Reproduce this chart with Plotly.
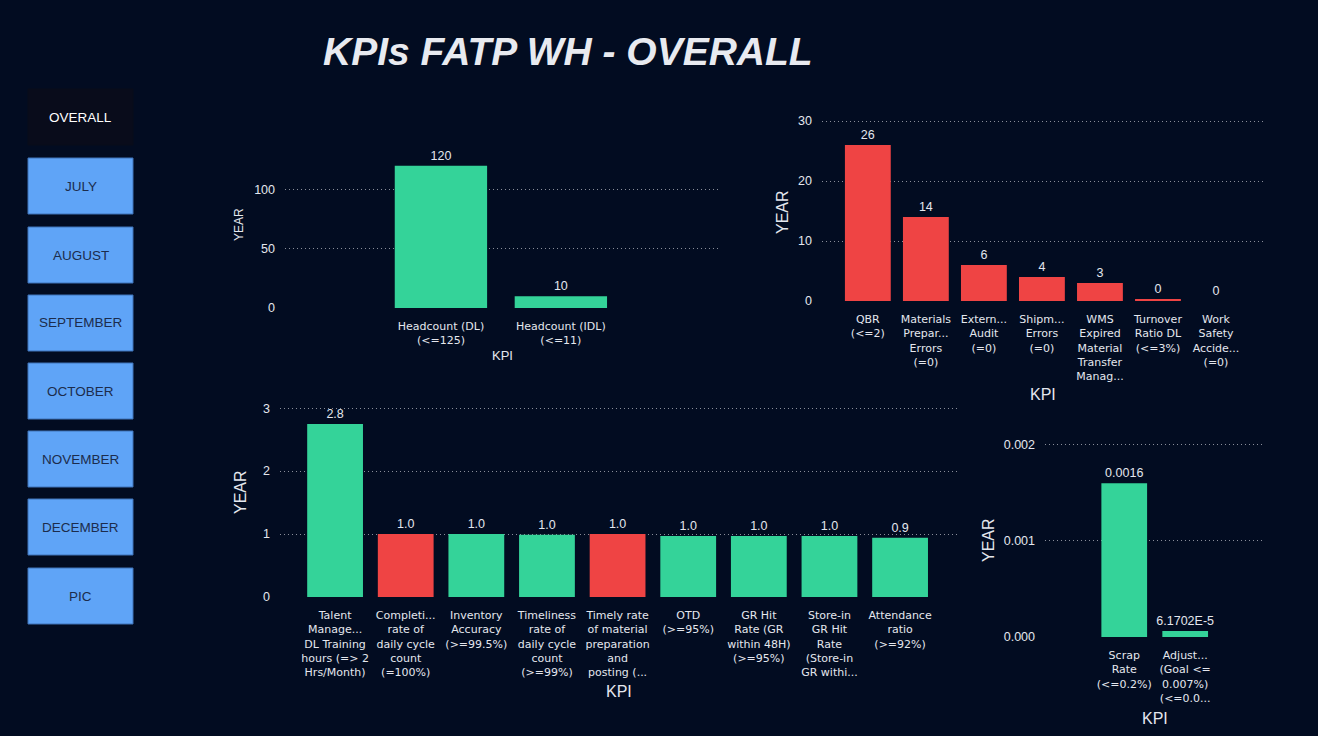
"""KPI dashboard: FATP warehouse, overall view."""
import plotly.graph_objects as go

W, H = 1318, 736

BG = "#020c21"
GREEN = "#34d399"
RED = "#ef4444"
STATUS_COLORS = {"met": GREEN, "miss": RED}
TXT = "#e4e7ee"

# --- data -------------------------------------------------------------
headcount_kpi = ["Headcount (DL)<br>(<=125)", "Headcount (IDL)<br>(<=11)"]
headcount_val = [120, 10]
headcount_status = ["met", "met"]

error_kpi = [
    "QBR<br>(<=2)",
    "Materials<br>Prepar...<br>Errors<br>(=0)",
    "Extern...<br>Audit<br>(=0)",
    "Shipm...<br>Errors<br>(=0)",
    "WMS<br>Expired<br>Material<br>Transfer<br>Manag...",
    "Turnover<br>Ratio DL<br>(<=3%)",
    "Work<br>Safety<br>Accide...<br>(=0)",
]
error_val = [26, 14, 6, 4, 3, 0.2, 0]
error_status = ["miss"] * 7

rate_kpi = [
    "Talent<br>Manage...<br>DL Training<br>hours (=> 2<br>Hrs/Month)",
    "Completi...<br>rate of<br>daily cycle<br>count<br>(=100%)",
    "Inventory<br>Accuracy<br>(>=99.5%)",
    "Timeliness<br>rate of<br>daily cycle<br>count<br>(>=99%)",
    "Timely rate<br>of material<br>preparation<br>and<br>posting (...",
    "OTD<br>(>=95%)",
    "GR Hit<br>Rate (GR<br>within 48H)<br>(>=95%)",
    "Store-in<br>GR Hit<br>Rate<br>(Store-in<br>GR withi...",
    "Attendance<br>ratio<br>(>=92%)",
]
rate_val = [2.75, 1.0, 1.0, 0.99, 1.0, 0.97, 0.97, 0.97, 0.94]
rate_status = ["met", "miss", "met", "met", "miss", "met", "met", "met", "met"]

scrap_kpi = [
    "Scrap<br>Rate<br>(<=0.2%)",
    "Adjust...<br>(Goal <=<br>0.007%)<br>(<=0.0...",
]
scrap_val = [0.0016, 0.000061702]
scrap_label = ["0.0016", "6.1702E-5"]
scrap_status = ["met", "met"]

months = ["OVERALL", "JULY", "AUGUST", "SEPTEMBER", "OCTOBER",
          "NOVEMBER", "DECEMBER", "PIC"]


def px_x(x):
    return x / W


def px_y(y):
    return 1 - y / H


fig = go.Figure()

# (kpi, values, status, text, textfmt, x-px, y-px, xrange, yrange, dtick, tickfmt, width)
charts = [
    (headcount_kpi, headcount_val, headcount_status, None, "%{y:.0f}",
     (285, 718), (148, 308), [-1.3, 2.31], [0, 135], 50, None, 0.77),
    (error_kpi, error_val, error_status, None, "%{y:.0f}",
     (822, 1263), (118, 301), [-0.79, 6.81], [0, 30.5], 10, None, 0.79),
    (rate_kpi, rate_val, rate_status, None, "%{y:.1f}",
     (280, 958), (405, 597), [-0.78, 8.82], [0, 3.05], 1, None, 0.79),
    (scrap_kpi, scrap_val, scrap_status, scrap_label, None,
     (1045, 1262), (440, 637), [-1.3, 2.26], [0, 0.00205], 0.001, ".3f", 0.75),
]

for i, (kpi, vals, status, text, tmpl, xs, ys, xr, yr, dt, tf, bw) in enumerate(charts, start=1):
    sfx = "" if i == 1 else str(i)
    bar = dict(
        x=list(range(len(kpi))), y=vals,
        marker=dict(color=[STATUS_COLORS[s] for s in status], line=dict(width=0)),
        width=bw, textposition="outside", cliponaxis=False, constraintext="none",
        textfont=dict(color=TXT, size=12.5, family="Liberation Sans"),
        hoverinfo="skip", showlegend=False,
        xaxis="x" + sfx, yaxis="y" + sfx,
    )
    if text is not None:
        bar["text"] = text
    else:
        bar["texttemplate"] = tmpl
    fig.add_trace(go.Bar(**bar))

    fig.layout["xaxis" + sfx] = dict(
        domain=[px_x(xs[0]), px_x(xs[1])], anchor="y" + sfx,
        range=xr, tickmode="array", tickvals=list(range(len(kpi))), ticktext=kpi,
        showgrid=False, zeroline=False, showline=False, ticks="",
        tickfont=dict(color=TXT, size=11, family="DejaVu Sans"),
        ticklabelstandoff=10, fixedrange=True, automargin=False,
    )
    fig.layout["yaxis" + sfx] = dict(
        domain=[px_y(ys[1]), px_y(ys[0])], anchor="x" + sfx,
        range=yr, dtick=dt, tickformat=tf,
        showgrid=True, gridcolor="rgba(230,230,235,0.6)", griddash="1px,3px", gridwidth=1,
        zeroline=False, showline=False, ticks="",
        tickfont=dict(color=TXT, size=12.5, family="Liberation Sans"),
        ticklabelstandoff=9, fixedrange=True, automargin=False,
    )

annotations = []
# axis titles: (text, x, y, size, angle)
axis_titles = [
    ("YEAR", 239, 225, 12, -90), ("KPI", 502, 355, 13, 0),
    ("YEAR", 782, 212, 16, -90), ("KPI", 1043, 394, 16, 0),
    ("YEAR", 240, 492, 16, -90), ("KPI", 619, 691, 16, 0),
    ("YEAR", 988, 540, 16, -90), ("KPI", 1155, 718, 16, 0),
]
for t, x, y, s, a in axis_titles:
    annotations.append(dict(
        text=t, x=px_x(x), y=px_y(y), xref="paper", yref="paper",
        showarrow=False, textangle=a, xanchor="center", yanchor="middle",
        font=dict(color=TXT, size=s, family="Liberation Sans"),
    ))

annotations.append(dict(
    text="<b><i>KPIs FATP WH - OVERALL</i></b>", x=px_x(568), y=px_y(52),
    xref="paper", yref="paper", showarrow=False, xanchor="center", yanchor="middle",
    font=dict(color="#e8eaf0", size=39, family="Liberation Sans"),
))

# month navigation buttons
shapes = []
btn_tops = [89, 158, 227, 295, 363, 431, 499, 568]
for name, top in zip(months, btn_tops):
    active = name == "OVERALL"
    shapes.append(dict(
        type="rect", xref="paper", yref="paper",
        x0=px_x(28), x1=px_x(133), y0=px_y(top + 56), y1=px_y(top),
        fillcolor="#090c1b" if active else "#5fa4f7",
        line=dict(color="#090c1b" if active else "#3f73b8", width=1),
        layer="above",
    ))
    annotations.append(dict(
        text=name, x=px_x(80.5), y=px_y(top + 28), xref="paper", yref="paper",
        showarrow=False, xanchor="center", yanchor="middle",
        font=dict(color="#ffffff" if active else "#1c2c4c", size=13.5,
                  family="Liberation Sans"),
    ))

fig.update_layout(
    width=W, height=H, margin=dict(l=0, r=0, t=0, b=0, autoexpand=False),
    paper_bgcolor=BG, plot_bgcolor="rgba(0,0,0,0)",
    annotations=annotations, shapes=shapes, bargap=0.2,
)

fig.write_html(
    "out.html",
    config={"displayModeBar": False},
    post_script="document.body.style.margin='0';"
                "document.body.style.overflow='hidden';"
                f"document.body.style.background='{BG}';",
)
